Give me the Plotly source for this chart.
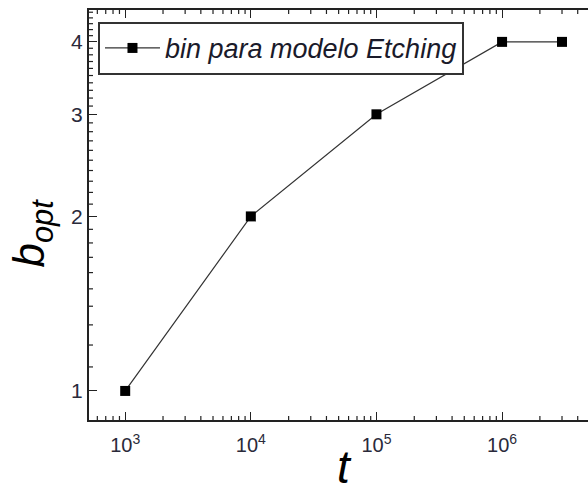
import numpy as np
import plotly.graph_objects as go

# optimal bin size vs. time for the Etching model
t_vals = [1e3, 1e4, 1e5, 1e6, 3e6]
b_opt = [1, 2, 3, 4, 4]

x_major = [1e3, 1e4, 1e5, 1e6]
x_major_text = ["10<sup>3</sup>", "10<sup>4</sup>", "10<sup>5</sup>", "10<sup>6</sup>"]
y_major = [1, 2, 3, 4]
y_major_text = ["1", "2", "3", "4"]

x_minor = [m * 10 ** k for k in range(2, 7) for m in range(2, 10)]
y_minor = [round(v, 2) for v in np.arange(1.1, 4.6, 0.1) if abs(v - round(v)) > 1e-6]

X_RANGE = [np.log10(515), 6.684]
Y_RANGE = [np.log10(0.891), np.log10(4.54)]
FONT = "Liberation Sans, Arial, sans-serif"
AX = "#222222"

fig = go.Figure()
fig.add_trace(go.Scatter(
    x=t_vals, y=b_opt, mode="lines+markers",
    name="<i>bin para modelo Etching</i>",
    line=dict(color="#333333", width=1.2),
    marker=dict(symbol="square", size=10, color="black"),
))

# minor ticks (inside), bottom + top for x, left for y
x_lo, x_hi = 10 ** X_RANGE[0], 10 ** X_RANGE[1]
y_lo, y_hi = 10 ** Y_RANGE[0], 10 ** Y_RANGE[1]
tick = dict(type="line", line=dict(color=AX, width=1.2), layer="above")
for xv in x_minor:
    if x_lo < xv < x_hi:
        fig.add_shape(**tick, xref="x", yref="paper", ysizemode="pixel",
                      yanchor=0, x0=xv, x1=xv, y0=0, y1=4)
        fig.add_shape(**tick, xref="x", yref="paper", ysizemode="pixel",
                      yanchor=1, x0=xv, x1=xv, y0=0, y1=-4)
for yv in y_minor:
    if y_lo < yv < y_hi:
        fig.add_shape(**tick, xref="paper", yref="y", xsizemode="pixel",
                      xanchor=0, x0=0, x1=4, y0=yv, y1=yv)

# axis titles
fig.add_annotation(
    text="<i>b<sub>opt</sub></i>", xref="paper", yref="paper",
    x=-0.114, y=0.455, xanchor="center", yanchor="middle",
    textangle=-90, showarrow=False,
    font=dict(family=FONT, size=44, color="black"),
)
fig.add_annotation(
    text="<i>t</i>", xref="paper", yref="paper",
    x=0.513, y=-0.114, xanchor="center", yanchor="middle",
    showarrow=False,
    font=dict(family=FONT, size=46, color="black"),
)

fig.update_layout(
    width=588, height=489,
    margin=dict(l=89, r=0, t=10, b=69, autoexpand=False),
    paper_bgcolor="white", plot_bgcolor="white",
    showlegend=True,
    legend=dict(
        x=0.018, y=0.971, xanchor="left", yanchor="top",
        bgcolor="white", bordercolor="#333333", borderwidth=2,
        font=dict(family=FONT, size=27, color="#1a1a2a"),
        itemwidth=55,
    ),
    xaxis=dict(
        type="log", range=X_RANGE, automargin=False,
        tickmode="array", tickvals=x_major, ticktext=x_major_text,
        ticks="inside", ticklen=8, tickwidth=1.3, tickcolor=AX,
        showline=True, linecolor=AX, linewidth=2, mirror="ticks",
        showgrid=False, zeroline=False, ticklabelstandoff=6,
        tickfont=dict(family=FONT, size=20, color="#2a2a3a"),
    ),
    yaxis=dict(
        type="log", range=Y_RANGE, automargin=False,
        tickmode="array", tickvals=y_major, ticktext=y_major_text,
        ticks="inside", ticklen=8, tickwidth=1.3, tickcolor=AX,
        showline=True, linecolor=AX, linewidth=2, mirror=False,
        showgrid=False, zeroline=False,
        tickfont=dict(family=FONT, size=21, color="#2a2a3a"),
    ),
)

fig.write_html("out.html")
